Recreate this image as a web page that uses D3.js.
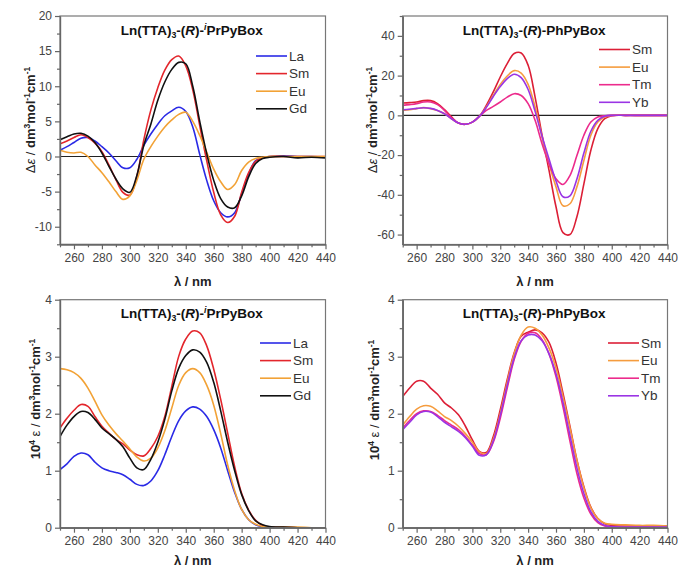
<!DOCTYPE html><html><head><meta charset="UTF-8"><title>Ln(TTA)3 PyBox spectra</title><script src="https://d3js.org/d3.v7.min.js"></script><style>
  body { margin: 0; background: #fff; }
  svg { display: block; font-family: "Liberation Sans", Arial, sans-serif; }
  .tick text { font-size: 12px; fill: #444; }
  .tick line, .domain { stroke: #666; stroke-width: 1.2px; }
  .frame { fill: none; stroke: #777; stroke-width: 1.2px; }
  .curve { fill: none; stroke-width: 1.6px; }
</style></head><body><svg id="chart" width="678" height="568"></svg><script>
// wavelength grid (nm)
const wl = [250,255,260,265,270,275,280,285,290,295,300,305,310,315,320,325,330,335,340,345,350,355,360,365,370,375,380,385,390,395,400,410,420,430,440];

// CD, (R)-iPrPyBox
const cdPrLa = [0.9,1.4,2.0,2.6,2.7,2.2,1.4,0.5,-0.6,-1.6,-1.6,-0.4,1.6,3.2,4.6,5.8,6.5,7.0,6.4,4.2,0.3,-3.4,-6.3,-8.0,-8.6,-8.0,-5.3,-2.5,-0.6,-0.2,0,0.1,0,0,-0.1];
const cdPrSm = [1.8,2.2,2.7,3.1,2.7,1.9,0.7,-1.2,-3.3,-5.1,-5.5,-2.8,2.4,6.6,9.8,12.3,13.8,14.3,12.9,9.5,4.4,-0.6,-5.1,-8.3,-9.4,-8.5,-5.1,-2.3,-0.7,-0.2,0,0,0,0,0];
const cdPrEu = [0.9,0.6,0.5,0.6,0.0,-1.2,-2.3,-3.6,-5.0,-6.1,-5.6,-3.4,-0.4,1.4,2.9,4.2,5.2,6.0,6.3,5.0,3.0,0.6,-1.8,-3.6,-4.7,-4.0,-2.0,-0.8,-0.3,-0.1,0,0,0,0,0];
const cdPrGd = [2.4,2.8,3.2,3.3,2.9,2.0,0.5,-1.4,-3.2,-4.6,-5.1,-2.7,1.6,4.6,8.0,10.6,12.4,13.4,13.2,10.0,5.0,0.4,-3.4,-6.0,-7.2,-7.3,-5.6,-2.9,-1.0,-0.3,-0.1,0,-0.2,-0.1,-0.2];

// CD, (R)-PhPyBox
const cdPhSm = [6.2,6.4,6.7,7.4,7.4,5.9,2.9,-0.8,-3.9,-4.5,-3.4,-0.5,5.0,11.8,19.3,26.0,31.1,31.4,25.2,9.2,-10,-27.7,-46,-59,-60,-51,-34.5,-17.6,-6.7,-1.7,-0.2,0,0,0,0];
const cdPhEu = [2.5,2.9,3.4,3.9,3.4,2.5,0.8,-1.7,-3.9,-4.5,-3.4,-0.5,4.2,10.0,15.6,19.8,22.5,21.3,15.6,4.2,-10.9,-24.4,-36,-45.5,-44.5,-36,-22.7,-10,-3.4,-0.8,0,0,0,0,0];
const cdPhTm = [5.0,5.4,5.9,6.7,6.7,5.4,2.5,-1.2,-3.9,-4.5,-3.4,-0.5,2.5,4.5,6.7,9.2,10.9,10.0,5.9,-2.5,-14.3,-24.4,-31.9,-34.8,-30.3,-20.2,-10,-3.4,-0.8,-0.2,0,0,0,0,0];
const cdPhYb = [2.8,3.1,3.5,3.8,3.5,2.5,0.8,-1.7,-3.9,-4.5,-3.4,-0.5,4.0,9.5,14.5,18.5,20.7,19.0,13.0,2.0,-10.5,-22,-33,-41,-40.5,-32,-19,-8,-2.5,-0.5,0,0,0,0,0];

// absorption (10^4 eps), (R)-iPrPyBox
const abPrLa = [1.02,1.12,1.25,1.31,1.28,1.15,1.05,1.0,0.97,0.93,0.85,0.76,0.74,0.82,1.0,1.28,1.6,1.88,2.05,2.12,2.08,1.95,1.72,1.4,1.0,0.62,0.32,0.14,0.05,0.02,0.01,0.01,0,0,0];
const abPrSm = [1.75,1.92,2.06,2.16,2.13,1.95,1.78,1.66,1.55,1.47,1.36,1.28,1.26,1.39,1.6,1.95,2.48,3.01,3.31,3.45,3.42,3.19,2.78,2.25,1.66,1.07,0.6,0.31,0.13,0.04,0.01,0.01,0,0,0];
const abPrEu = [2.79,2.77,2.72,2.62,2.45,2.22,1.98,1.8,1.65,1.52,1.38,1.24,1.17,1.22,1.4,1.7,2.1,2.5,2.72,2.79,2.72,2.5,2.15,1.65,1.1,0.65,0.32,0.14,0.06,0.02,0.01,0.01,0.01,0,0];
const abPrGd = [1.6,1.8,1.95,2.04,2.02,1.9,1.75,1.65,1.55,1.42,1.22,1.05,1.02,1.2,1.5,1.9,2.4,2.8,3.02,3.12,3.08,2.9,2.55,2.05,1.5,1.0,0.58,0.3,0.12,0.05,0.02,0.01,0,0,0];

// absorption (10^4 eps), (R)-PhPyBox
const abPhSm = [2.3,2.45,2.57,2.57,2.45,2.34,2.19,2.1,1.98,1.78,1.54,1.34,1.32,1.6,2.07,2.6,3.07,3.36,3.43,3.47,3.42,3.25,2.89,2.36,1.78,1.19,0.72,0.36,0.16,0.07,0.04,0.03,0.03,0.03,0.03];
const abPhEu = [1.8,1.95,2.08,2.14,2.13,2.05,1.95,1.88,1.78,1.65,1.5,1.33,1.3,1.55,2.0,2.55,3.05,3.38,3.52,3.5,3.38,3.15,2.8,2.3,1.75,1.18,0.7,0.35,0.16,0.08,0.06,0.05,0.04,0.04,0.03];
const abPhTm = [1.75,1.88,2.0,2.05,2.04,1.97,1.88,1.8,1.72,1.6,1.45,1.3,1.28,1.5,1.92,2.45,2.95,3.27,3.41,3.42,3.3,3.05,2.65,2.12,1.52,0.95,0.52,0.24,0.09,0.03,0.01,0,0,0,0];
const abPhYb = [1.72,1.85,1.98,2.04,2.03,1.95,1.85,1.77,1.69,1.58,1.43,1.27,1.28,1.52,1.97,2.5,2.98,3.28,3.38,3.38,3.28,3.05,2.7,2.2,1.62,1.05,0.6,0.28,0.11,0.04,0.02,0.01,0.01,0.01,0.01];

const prLabels = ["La", "Sm", "Eu", "Gd"];
const phLabels = ["Sm", "Eu", "Tm", "Yb"];
const prColors = ["#2a2ae6", "#e3262c", "#f2a236", "#111111"];
const phColors = ["#dc1f36", "#f59c3e", "#ec2b8c", "#9a34e4"];

const xTicks = [260,280,300,320,340,360,380,400,420,440];
const xMinor = [250,270,290,310,330,350,370,390,410,430];
const yTicksCdPr = [-10,-5,0,5,10,15,20];
const yMinorCdPr = [-12.5,-7.5,-2.5,2.5,7.5,12.5,17.5];
const yTicksCdPh = [-60,-40,-20,0,20,40];
const yMinorCdPh = [-50,-30,-10,10,30,50];
const yTicksAb = [0,1,2,3,4];
const yMinorAb = [0.5,1.5,2.5,3.5];

const svg = d3.select("#chart");

// rich text: parts of {t, sub, sup, it, w}
function rich(sel, parts) {
  let shift = 0;
  parts.forEach(p => {
    const ts = sel.append("tspan").text(p.t);
    let dy = -shift;
    shift = 0;
    if (p.sub) { dy += 3; shift = 3; ts.attr("font-size", "0.65em"); }
    if (p.sup) { dy -= 5; shift = -5; ts.attr("font-size", "0.65em"); }
    if (dy) ts.attr("dy", dy);
    if (p.it) ts.attr("font-style", "italic");
    if (p.w) ts.attr("font-weight", p.w);
  });
}

const titlePr = [{t: "Ln(TTA)"}, {t: "3", sub: true}, {t: "-("}, {t: "R", it: true}, {t: ")-"}, {t: "i", sup: true, it: true}, {t: "PrPyBox"}];
const titlePh = [{t: "Ln(TTA)"}, {t: "3", sub: true}, {t: "-("}, {t: "R", it: true}, {t: ")-PhPyBox"}];
const ylabCd = [{t: "Δ", w: "normal"}, {t: "ε", it: true, w: "normal"}, {t: " / ", w: "normal"}, {t: "dm"}, {t: "3", sup: true}, {t: "mol"}, {t: "-1", sup: true}, {t: "cm"}, {t: "-1", sup: true}];
const ylabAb = [{t: "10"}, {t: "4", sup: true}, {t: " ε / ", w: "normal"}, {t: "dm"}, {t: "3", sup: true}, {t: "mol"}, {t: "-1", sup: true}, {t: "cm"}, {t: "-1", sup: true}];

const panels = [
  {x0: 60, x1: 325.5, y0: 16, y1: 244.3, dom: [-12.5, 20], ticks: yTicksCdPr, minor: yMinorCdPr, zero: true,
   series: [cdPrLa, cdPrSm, cdPrEu, cdPrGd], labels: prLabels, colors: prColors, title: titlePr, ylab: ylabCd,
   titleY: 35, ylabX: 35, ylabY: 120, xlabY: 286, leg: {x: 256, y: 56}},
  {x0: 402.7, x1: 667.5, y0: 16, y1: 244.5, dom: [-65, 50], ticks: yTicksCdPh, minor: yMinorCdPh, zero: true,
   series: [cdPhSm, cdPhEu, cdPhTm, cdPhYb], labels: phLabels, colors: phColors, title: titlePh, ylab: ylabCd,
   titleY: 35, ylabX: 377, ylabY: 120, xlabY: 286, leg: {x: 599, y: 49.5}},
  {x0: 60, x1: 325.5, y0: 299.7, y1: 527.7, dom: [0, 4], ticks: yTicksAb, minor: yMinorAb, zero: false,
   series: [abPrLa, abPrSm, abPrEu, abPrGd], labels: prLabels, colors: prColors, title: titlePr, ylab: ylabAb,
   titleY: 318, ylabX: 40, ylabY: 399, xlabY: 565, leg: {x: 260, y: 343}},
  {x0: 402.7, x1: 667.5, y0: 299.7, y1: 527.7, dom: [0, 4], ticks: yTicksAb, minor: yMinorAb, zero: false,
   series: [abPhSm, abPhEu, abPhTm, abPhYb], labels: phLabels, colors: phColors, title: titlePh, ylab: ylabAb,
   titleY: 318, ylabX: 379, ylabY: 400, xlabY: 565, leg: {x: 608, y: 343}}
];

panels.forEach((p, pi) => {
  const x = d3.scaleLinear().domain([250, 440]).range([p.x0, p.x1]);
  const y = d3.scaleLinear().domain(p.dom).range([p.y1, p.y0]);
  const g = svg.append("g");

  g.append("clipPath").attr("id", "clip" + pi)
    .append("rect").attr("x", p.x0).attr("y", p.y0).attr("width", p.x1 - p.x0).attr("height", p.y1 - p.y0);

  if (p.zero) {
    g.append("line").attr("x1", p.x0).attr("x2", p.x1).attr("y1", y(0)).attr("y2", y(0))
      .attr("stroke", "#222").attr("stroke-width", 1.1);
  }

  const line = d3.line().x((d, i) => x(wl[i])).y(d => y(d)).curve(d3.curveCatmullRom.alpha(0.5));
  p.series.forEach((s, i) => {
    g.append("path").attr("class", "curve").attr("clip-path", `url(#clip${pi})`)
      .attr("stroke", p.colors[i]).attr("d", line(s));
  });

  // frame (top/right)
  g.append("rect").attr("class", "frame").attr("x", p.x0).attr("y", p.y0)
    .attr("width", p.x1 - p.x0).attr("height", p.y1 - p.y0);

  // axes
  g.append("g").attr("transform", `translate(0,${p.y1})`)
    .call(d3.axisBottom(x).tickValues(xMinor).tickSize(3).tickSizeOuter(0).tickFormat(""));
  g.append("g").attr("transform", `translate(0,${p.y1})`)
    .call(d3.axisBottom(x).tickValues(xTicks).tickSize(5).tickSizeOuter(0).tickPadding(4).tickFormat(d3.format("d")));
  g.append("g").attr("transform", `translate(${p.x0},0)`)
    .call(d3.axisLeft(y).tickValues(p.minor).tickSize(3).tickSizeOuter(0).tickFormat(""));
  g.append("g").attr("transform", `translate(${p.x0},0)`)
    .call(d3.axisLeft(y).tickValues(p.ticks).tickSize(5).tickSizeOuter(0).tickPadding(3).tickFormat(d => String(d)));

  // title
  const cx = (p.x0 + p.x1) / 2 - 1;
  const t = g.append("text").attr("x", cx).attr("y", p.titleY).attr("text-anchor", "middle")
    .attr("font-size", 13.5).attr("font-weight", "bold").attr("fill", "#111");
  rich(t, p.title);

  // x label
  g.append("text").attr("x", cx + 1).attr("y", p.xlabY).attr("text-anchor", "middle")
    .attr("font-size", 13).attr("font-weight", "bold").attr("fill", "#222").text("λ / nm");

  // y label
  const yl = g.append("text").attr("transform", `translate(${p.ylabX},${p.ylabY}) rotate(-90)`)
    .attr("text-anchor", "middle").attr("font-size", 13).attr("font-weight", "bold").attr("fill", "#222");
  rich(yl, p.ylab);

  // legend
  p.labels.forEach((lab, i) => {
    const ly = p.leg.y + i * 17.6;
    g.append("line").attr("x1", p.leg.x).attr("x2", p.leg.x + 31).attr("y1", ly).attr("y2", ly)
      .attr("stroke", p.colors[i]).attr("stroke-width", 1.6);
    g.append("text").attr("x", p.leg.x + 33).attr("y", ly + 4.5).attr("font-size", 13.5)
      .attr("fill", "#333").text(lab);
  });
});
</script></body></html>
